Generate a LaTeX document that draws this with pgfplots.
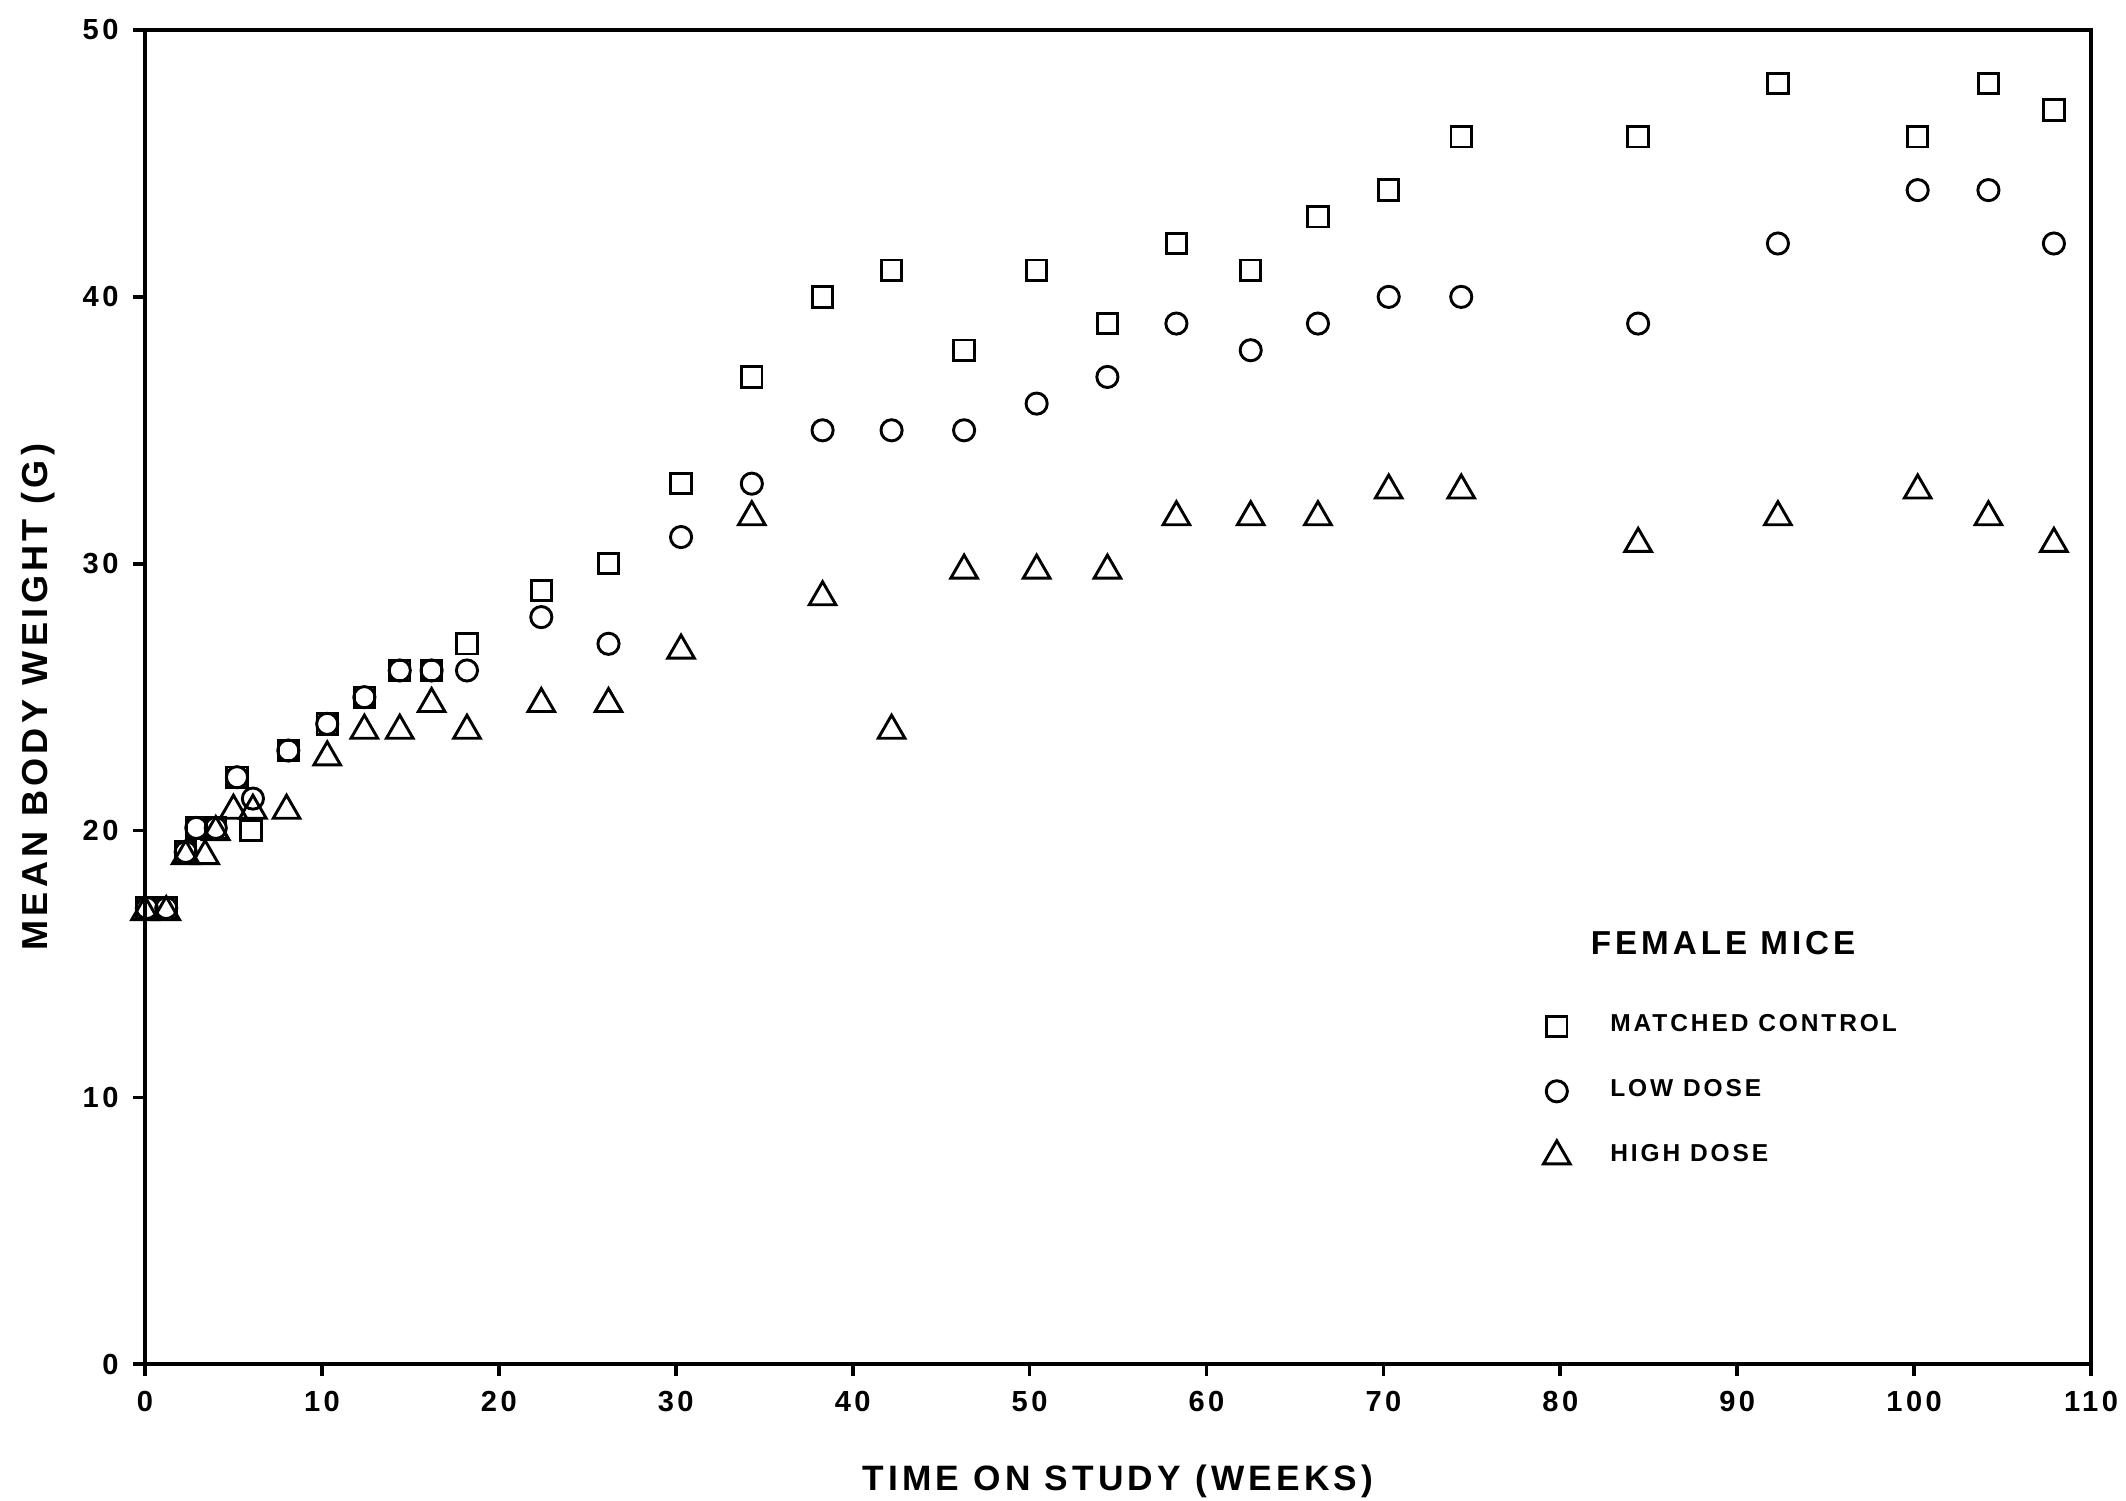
\documentclass[border=0pt]{standalone}
\usepackage{fontspec}
\setmainfont{Liberation Sans}[LetterSpace=12]
\usepackage{pgfplots}
\usepackage{pgfplotstable}
\pgfplotsset{compat=1.18}

% week, mean body weight (g)
\pgfplotstableread{
wk g
0.1 17.1
1.2 17.1
2.3 19.2
2.9 20.1
4.0 20.1
5.2 22
6.0 20
8.1 23
10.3 24
12.4 25
14.4 26
16.2 26
18.2 27
22.4 29
26.2 30
30.3 33
34.3 37
38.3 40
42.2 41
46.3 38
50.4 41
54.4 39
58.3 42
62.5 41
66.3 43
70.3 44
74.4 46
84.4 46
92.3 48
100.2 46
104.2 48
107.9 47
}\control
\pgfplotstableread{
wk g
0.1 17.1
1.2 17.1
2.3 19.2
2.9 20.1
4.0 20.1
5.2 22
6.1 21.2
8.1 23
10.3 24
12.4 25
14.4 26
16.2 26
18.2 26
22.4 28
26.2 27
30.3 31
34.3 33
38.3 35
42.2 35
46.3 35
50.4 36
54.4 37
58.3 39
62.5 38
66.3 39
70.3 40
74.4 40
84.4 39
92.3 42
100.2 44
104.2 44
107.9 42
}\lowdose
\pgfplotstableread{
wk g
0.0 16.95
1.2 16.95
2.3 19.05
3.4 19.05
4.0 19.95
5.0 20.75
6.1 20.75
8.0 20.75
10.3 22.75
12.4 23.75
14.4 23.75
16.2 24.75
18.2 23.75
22.4 24.75
26.2 24.75
30.3 26.75
34.3 31.75
38.3 28.75
42.2 23.75
46.3 29.75
50.4 29.75
54.4 29.75
58.3 31.75
62.5 31.75
66.3 31.75
70.3 32.75
74.4 32.75
84.4 30.75
92.3 31.75
100.2 32.75
104.2 31.75
107.9 30.75
}\highdose

\begin{document}
\begin{tikzpicture}
\begin{axis}[
  name=ax,
  width=16.48cm, height=11.30cm, scale only axis,
  xmin=0, xmax=110, ymin=0, ymax=50,
  xtick={0,10,...,110}, ytick={0,10,...,50},
  tick align=outside, tick pos=left,
  major tick length=0.1cm,
  axis line style={line width=1pt},
  tick style={line width=0.9pt, black},
  ticklabel style={font=\fontsize{7}{8}\selectfont\bfseries},
  /pgf/number format/assume math mode=true,
  xlabel={TIME ON STUDY (WEEKS)},
  ylabel={MEAN BODY WEIGHT (G)},
  xlabel style={font=\fontsize{8.5}{10}\selectfont\bfseries, inner sep=0pt,
    at={(axis description cs:0.5,-0.0874)}, anchor=center},
  ylabel style={font=\fontsize{8.7}{10}\selectfont\bfseries, inner sep=0pt,
    at={(axis description cs:-0.055,0.5)}, anchor=center},
  clip=false,
  legend cell align=left,
  legend style={draw=none, fill=none, at={(axis cs:78.3,13.75)}, anchor=north west,
    font=\fontsize{5.9}{7}\selectfont\bfseries, row sep=6pt,
    /tikz/every odd column/.append style={column sep=0.27cm}},
]
\addplot[only marks, mark=square, mark size=2.46pt, mark options={line width=0.7pt, black}]
  table[x=wk, y=g] {\control};
\addlegendentry{MATCHED CONTROL}
\addplot[only marks, mark=o, mark size=2.55pt, mark options={line width=0.7pt, black}]
  table[x=wk, y=g] {\lowdose};
\addlegendentry{LOW DOSE}
\addplot[only marks, mark=triangle, mark size=3.7pt, mark options={line width=0.7pt, black}]
  table[x=wk, y=g] {\highdose};
\addlegendentry{HIGH DOSE}

\node[font=\fontsize{8}{9}\selectfont\bfseries] at (axis cs:89.2,15.8) {FEMALE MICE};
\end{axis}
% page = reference margins round the axis box
\pgfresetboundingbox
\path[use as bounding box] ([xshift=-1.228cm,yshift=-1.151cm]ax.south west)
  rectangle ([xshift=0.296cm,yshift=0.254cm]ax.north east);
\end{tikzpicture}
\end{document}
